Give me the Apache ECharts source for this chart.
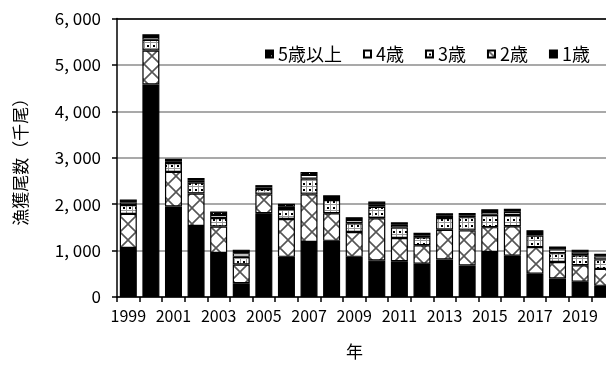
<!DOCTYPE html>
<html>
<head>
<meta charset="utf-8">
<script src="https://cdn.jsdelivr.net/npm/echarts@6/dist/echarts.min.js"></script>
<style>
  html, body { margin: 0; padding: 0; background: #fff; overflow: hidden; }
  /* the plot runs slightly past the right edge of the window */
  #chart { width: 620px; height: 365px; }
</style>
</head>
<body>
<div id="chart"></div>
<script>
// 年別・年齢別の漁獲尾数（千尾）
const years = ['1999','2000','2001','2002','2003','2004','2005','2006','2007','2008','2009',
               '2010','2011','2012','2013','2014','2015','2016','2017','2018','2019','2020'];
const age1 = [1055, 4580, 1950, 1530, 950, 295, 1805, 865, 1185, 1210, 865, 785, 770, 715, 810, 680, 970, 890, 500, 400, 330, 240];
const age2 = [735, 730, 745, 700, 570, 405, 405, 815, 1025, 595, 535, 910, 500, 400, 640, 755, 535, 635, 575, 355, 355, 365];
const age3 = [190, 230, 190, 235, 180, 165, 115, 215, 340, 285, 190, 250, 230, 170, 250, 285, 265, 240, 250, 190, 215, 205];
const age4 = [55, 60, 40, 40, 65, 80, 35, 50, 80, 45, 70, 50, 55, 45, 50, 40, 60, 70, 55, 80, 60, 65];
const age5 = [65, 60, 55, 60, 75, 75, 50, 65, 65, 55, 60, 60, 55, 55, 55, 50, 60, 65, 60, 65, 60, 55];
const legendOrder = ['5歳以上', '4歳', '3歳', '2歳', '1歳'];
const yTicks = { min: 0, max: 6000, step: 1000 };

const FONT = '"Noto Sans CJK JP", "Noto Sans", sans-serif';

// 2歳: 斜め格子のハッチング
function crossPattern() {
  const s = 16;
  const c = document.createElement('canvas');
  c.width = s; c.height = s;
  const g = c.getContext('2d');
  g.fillStyle = '#fff';
  g.fillRect(0, 0, s, s);
  g.strokeStyle = '#555';
  g.lineWidth = 1.6;
  g.beginPath();
  g.moveTo(-2, -2); g.lineTo(s + 2, s + 2);
  g.moveTo(s + 2, -2); g.lineTo(-2, s + 2);
  g.stroke();
  return c;
}

// 3歳: 点と細線の格子
function dotPattern() {
  const s = 6;
  const c = document.createElement('canvas');
  c.width = s; c.height = s;
  const g = c.getContext('2d');
  g.fillStyle = '#fff';
  g.fillRect(0, 0, s, s);
  g.fillStyle = '#999';
  g.fillRect(0, 0, s, 1);
  g.fillRect(0, 0, 1, s);
  g.fillStyle = '#000';
  g.fillRect(3, 3, 2, 2);
  return c;
}

// 5歳以上: 黒地に小さな白点
function darkDotPattern() {
  const s = 8;
  const c = document.createElement('canvas');
  c.width = s; c.height = s;
  const g = c.getContext('2d');
  g.fillStyle = '#000';
  g.fillRect(0, 0, s, s);
  g.fillStyle = '#fff';
  g.fillRect(5, 5, 1, 1);
  return c;
}

function fmt(v) {
  const s = String(v);
  return s.length > 3 ? s.slice(0, s.length - 3) + ', ' + s.slice(-3) : s;
}

const border = { borderColor: '#000', borderWidth: 1.2 };
const mk = (name, data, color) => ({
  name, type: 'bar', stack: 'total', data,
  barWidth: 17,
  xAxisIndex: 0,
  itemStyle: Object.assign({ color }, border),
  emphasis: { disabled: true }
});

const chart = echarts.init(document.getElementById('chart'), null, { renderer: 'canvas' });
chart.setOption({
  animation: false,
  backgroundColor: '#fff',
  textStyle: { fontFamily: FONT },
  grid: { left: 117, top: 18.5, width: 497, bottom: 65.5, containLabel: false },
  legend: {
    data: legendOrder,
    left: 260, top: 40,
    itemWidth: 7, itemHeight: 7, itemGap: 21,
    icon: 'rect',
    selectedMode: false,
    textStyle: { fontFamily: FONT, fontSize: 18, color: '#000' }
  },
  xAxis: [{
    type: 'category',
    data: years,
    position: 'bottom',
    boundaryGap: true,
    name: '年',
    nameLocation: 'middle',
    nameGap: 46,
    nameTextStyle: { fontFamily: FONT, fontSize: 17, color: '#000', padding: [0, 22, 0, 0] },
    axisLine: { lineStyle: { color: '#000', width: 1.5 } },
    axisTick: { show: true, interval: 0, length: 5, lineStyle: { color: '#000', width: 1.5 } },
    axisLabel: { interval: 1, margin: 11, fontFamily: FONT, fontSize: 16, color: '#000' },
    splitLine: { show: false }
  }, {
    type: 'category',
    data: years,
    position: 'top',
    axisLine: { show: true, lineStyle: { color: '#000', width: 1.5 } },
    axisTick: { show: false },
    axisLabel: { show: false },
    splitLine: { show: false }
  }],
  yAxis: {
    type: 'value',
    min: yTicks.min, max: yTicks.max, interval: yTicks.step,
    name: '漁獲尾数（千尾）',
    nameLocation: 'middle',
    nameGap: 88,
    nameTextStyle: { fontFamily: FONT, fontSize: 17, color: '#000' },
    axisLine: { show: true, lineStyle: { color: '#000', width: 1.5 } },
    axisTick: { show: true, length: 5, lineStyle: { color: '#000', width: 1.5 } },
    axisLabel: { margin: 16, fontFamily: FONT, fontSize: 17, color: '#000', formatter: fmt },
    splitLine: { show: true, lineStyle: { color: '#8c8c8c', width: 1.5 } }
  },
  series: [
    mk('1歳', age1, '#000'),
    mk('2歳', age2, { image: crossPattern(), repeat: 'repeat' }),
    mk('3歳', age3, { image: dotPattern(), repeat: 'repeat' }),
    mk('4歳', age4, '#fff'),
    mk('5歳以上', age5, { image: darkDotPattern(), repeat: 'repeat' })
  ]
});
</script>
</body>
</html>
